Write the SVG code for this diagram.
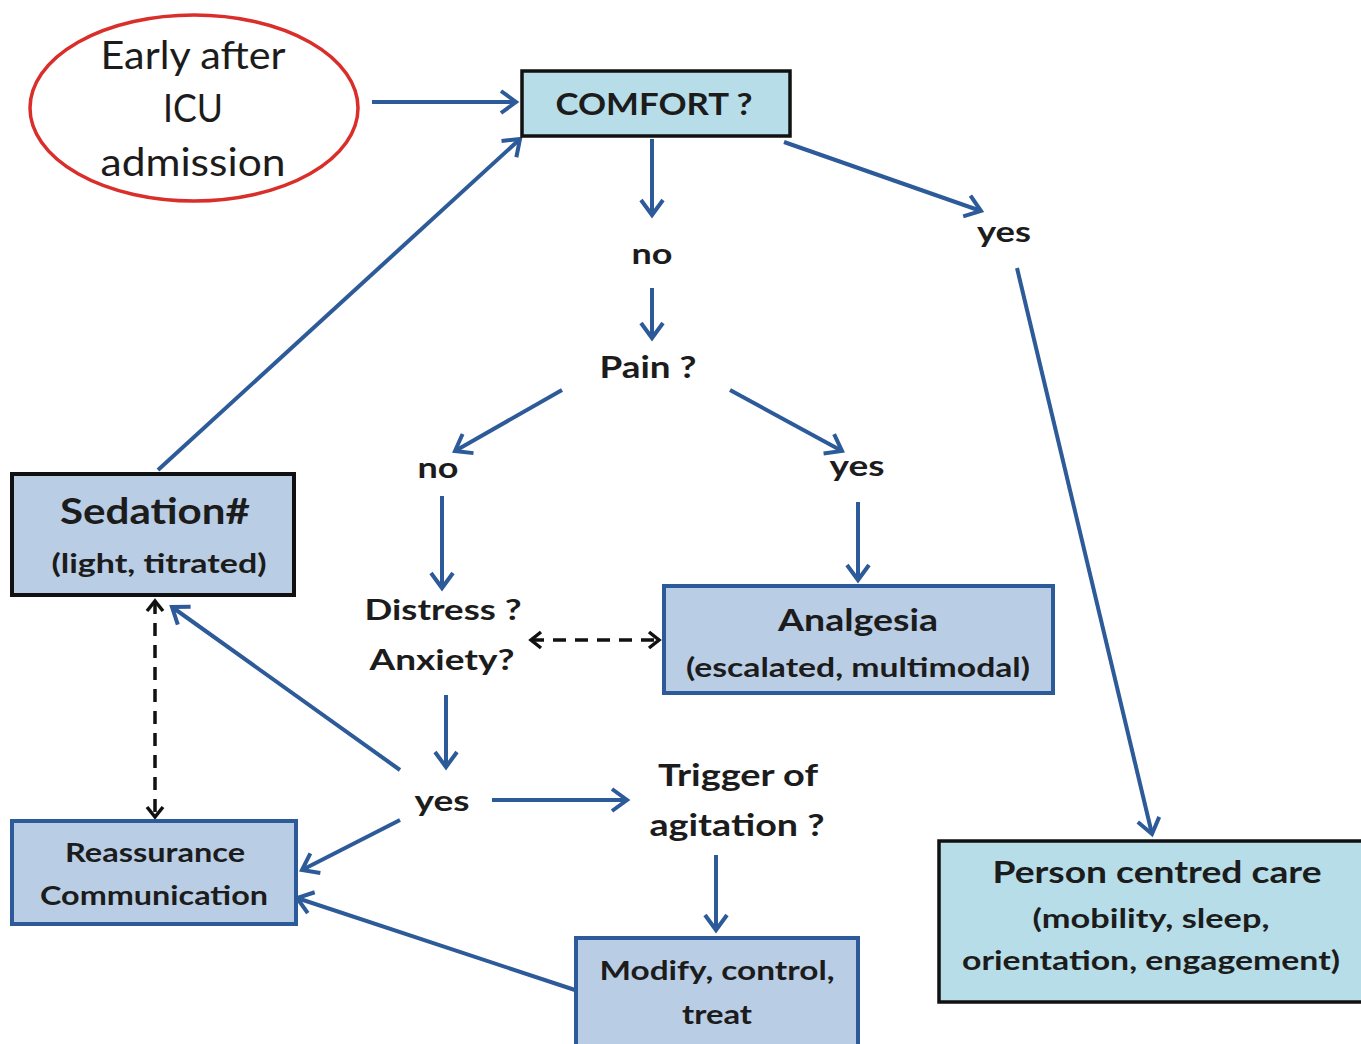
<svg xmlns="http://www.w3.org/2000/svg" width="1361" height="1044" viewBox="0 0 1361 1044">
<style>
text{font-family:Lato,"Open Sans","Liberation Sans",sans-serif;fill:#1c1c1c;text-anchor:middle}
.b{font-weight:bold}
.bl{fill:none;stroke:#2d5a98;stroke-width:4}
.da{fill:none;stroke:#111;stroke-width:3.5;stroke-dasharray:13 9}
.box1{fill:#b9cde5;stroke:#2d5a98;stroke-width:4}
.box2{fill:#b9cde5;stroke:#111;stroke-width:4}
.box3{fill:#b7dee8;stroke:#111;stroke-width:3.5}
</style>
<defs>
<marker id="ah" markerUnits="userSpaceOnUse" markerWidth="40" markerHeight="40" viewBox="-20 -20 40 40" refX="0" refY="0" orient="auto">
<path d="M-15,-11 L0,0 L-15,11" fill="none" stroke="#2d5a98" stroke-width="4"/>
</marker>
<marker id="dh" markerUnits="userSpaceOnUse" markerWidth="30" markerHeight="30" viewBox="-15 -15 30 30" refX="0" refY="0" orient="auto-start-reverse">
<path d="M-10,-8 L0,0 L-10,8" fill="none" stroke="#111" stroke-width="3.5"/>
</marker>
</defs>
<rect width="1361" height="1044" fill="#fff"/>
<g id="connectors">
<line class="bl" x1="372" y1="102" x2="516" y2="102" marker-end="url(#ah)"/>
<line class="bl" x1="652" y1="139" x2="652" y2="215" marker-end="url(#ah)"/>
<line class="bl" x1="652" y1="288" x2="652" y2="338" marker-end="url(#ah)"/>
<line class="bl" x1="562" y1="390" x2="455" y2="451" marker-end="url(#ah)"/>
<line class="bl" x1="730" y1="390" x2="842" y2="451" marker-end="url(#ah)"/>
<line class="bl" x1="858" y1="502" x2="858" y2="580" marker-end="url(#ah)"/>
<line class="bl" x1="442" y1="496" x2="442" y2="588" marker-end="url(#ah)"/>
<line class="bl" x1="446" y1="695" x2="446" y2="767" marker-end="url(#ah)"/>
<line class="bl" x1="492" y1="800" x2="627" y2="800" marker-end="url(#ah)"/>
<line class="bl" x1="716" y1="855" x2="716" y2="930" marker-end="url(#ah)"/>
<line class="bl" x1="575" y1="990" x2="297" y2="898" marker-end="url(#ah)"/>
<line class="bl" x1="400" y1="820" x2="302" y2="870" marker-end="url(#ah)"/>
<line class="bl" x1="400" y1="770" x2="172" y2="607" marker-end="url(#ah)"/>
<line class="bl" x1="158" y1="470" x2="520" y2="139" marker-end="url(#ah)"/>
<line class="bl" x1="784" y1="142" x2="981" y2="211" marker-end="url(#ah)"/>
<line class="bl" x1="1017" y1="268" x2="1152" y2="834" marker-end="url(#ah)"/>
<line class="da" x1="531" y1="640" x2="659" y2="640" marker-start="url(#dh)" marker-end="url(#dh)"/>
<line class="da" x1="155" y1="601" x2="155" y2="817" marker-start="url(#dh)" marker-end="url(#dh)"/>
</g>
<g id="early">
<ellipse cx="194" cy="108" rx="164" ry="93" fill="#fff" stroke="#d92e2a" stroke-width="3.5"/>
<text x="193" y="69" font-size="38" textLength="185" lengthAdjust="spacingAndGlyphs">Early after</text>
<text x="193" y="122" font-size="38" textLength="60" lengthAdjust="spacingAndGlyphs">ICU</text>
<text x="193" y="176" font-size="38" textLength="185" lengthAdjust="spacingAndGlyphs">admission</text>
</g>
<g id="comfort">
<rect class="box3" x="522" y="71" width="268" height="65"/>
<text class="b" x="654" y="115" font-size="30" textLength="197" lengthAdjust="spacingAndGlyphs">COMFORT ?</text>
</g>
<g id="no1"><text class="b" x="652" y="264" font-size="28" textLength="41" lengthAdjust="spacingAndGlyphs">no</text></g>
<g id="pain"><text class="b" x="648" y="378" font-size="30" textLength="97" lengthAdjust="spacingAndGlyphs">Pain ?</text></g>
<g id="no2"><text class="b" x="438" y="478" font-size="28" textLength="41" lengthAdjust="spacingAndGlyphs">no</text></g>
<g id="yes1"><text class="b" x="857" y="476" font-size="28" textLength="55" lengthAdjust="spacingAndGlyphs">yes</text></g>
<g id="yes2"><text class="b" x="1004" y="242" font-size="28" textLength="54" lengthAdjust="spacingAndGlyphs">yes</text></g>
<g id="distress">
<text class="b" x="443" y="620" font-size="29" textLength="157" lengthAdjust="spacingAndGlyphs">Distress ?</text>
<text class="b" x="442" y="670" font-size="29" textLength="145" lengthAdjust="spacingAndGlyphs">Anxiety?</text>
</g>
<g id="yes3"><text class="b" x="442" y="811" font-size="29" textLength="55" lengthAdjust="spacingAndGlyphs">yes</text></g>
<g id="trigger">
<text class="b" x="738" y="786" font-size="30" textLength="160" lengthAdjust="spacingAndGlyphs">Trigger of</text>
<text class="b" x="737" y="836" font-size="30" textLength="175" lengthAdjust="spacingAndGlyphs">agitation ?</text>
</g>
<g id="analgesia">
<rect class="box1" x="664" y="586" width="389" height="107"/>
<text class="b" x="858" y="631" font-size="31" textLength="160" lengthAdjust="spacingAndGlyphs">Analgesia</text>
<text class="b" x="858" y="677" font-size="26" textLength="344" lengthAdjust="spacingAndGlyphs">(escalated, multimodal)</text>
</g>
<g id="sedation">
<rect class="box2" x="12" y="474" width="282" height="121"/>
<text class="b" x="155" y="524" font-size="36" textLength="190" lengthAdjust="spacingAndGlyphs">Sedation#</text>
<text class="b" x="159" y="573" font-size="27" textLength="215" lengthAdjust="spacingAndGlyphs">(light, titrated)</text>
</g>
<g id="reassurance">
<rect class="box1" x="12" y="821" width="284" height="103"/>
<text class="b" x="155" y="862" font-size="26" textLength="180" lengthAdjust="spacingAndGlyphs">Reassurance</text>
<text class="b" x="154" y="905" font-size="26" textLength="228" lengthAdjust="spacingAndGlyphs">Communication</text>
</g>
<g id="modify">
<rect class="box1" x="576" y="938" width="282" height="110"/>
<text class="b" x="717" y="980" font-size="27" textLength="235" lengthAdjust="spacingAndGlyphs">Modify, control,</text>
<text class="b" x="717" y="1024" font-size="27" textLength="70" lengthAdjust="spacingAndGlyphs">treat</text>
</g>
<g id="person">
<rect class="box3" x="939" y="841" width="424" height="161"/>
<text class="b" x="1157" y="883" font-size="31" textLength="329" lengthAdjust="spacingAndGlyphs">Person centred care</text>
<text class="b" x="1151" y="928" font-size="27" textLength="237" lengthAdjust="spacingAndGlyphs">(mobility, sleep,</text>
<text class="b" x="1151" y="970" font-size="27" textLength="378" lengthAdjust="spacingAndGlyphs">orientation,  engagement)</text>
</g>
</svg>
